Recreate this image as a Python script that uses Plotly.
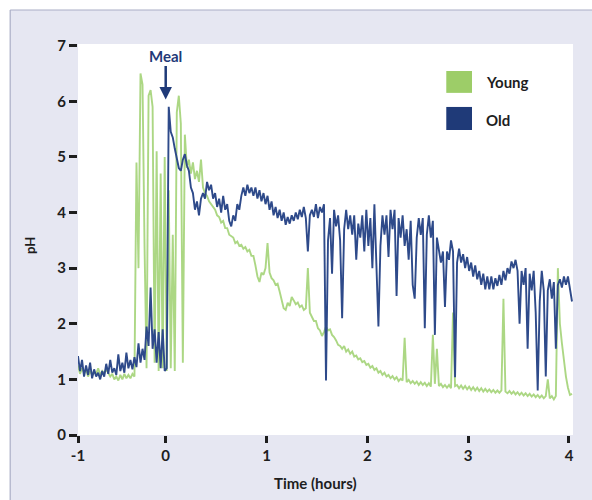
import plotly.graph_objects as go

# ---------------- data ----------------
hours = [
    -0.87, -0.85, -0.83, -0.81, -0.79, -0.77, -0.75, -0.73, -0.71, -0.69,
    -0.67, -0.65, -0.63, -0.61, -0.59, -0.57, -0.55, -0.53, -0.51, -0.49,
    -0.47, -0.45, -0.43, -0.41, -0.39, -0.37, -0.35, -0.33, -0.31, -0.29,
    -0.27, -0.25, -0.23, -0.21, -0.19, -0.17, -0.15, -0.13, -0.11, -0.09,
    -0.07, -0.05, -0.03, -0.01, 0.01, 0.03, 0.05, 0.07, 0.09, 0.11,
    0.13, 0.15, 0.17, 0.19, 0.21, 0.23, 0.25, 0.27, 0.29, 0.31,
    0.33, 0.35, 0.37, 0.39, 0.41, 0.43, 0.45, 0.47, 0.49, 0.51,
    0.53, 0.55, 0.57, 0.59, 0.61, 0.63, 0.65, 0.67, 0.69, 0.71,
    0.73, 0.75, 0.77, 0.79, 0.81, 0.83, 0.85, 0.87, 0.89, 0.91,
    0.93, 0.95, 0.97, 0.99, 1.01, 1.03, 1.05, 1.07, 1.09, 1.11,
    1.13, 1.15, 1.17, 1.19, 1.21, 1.23, 1.25, 1.27, 1.29, 1.31,
    1.33, 1.35, 1.37, 1.39, 1.41, 1.43, 1.45, 1.47, 1.49, 1.51,
    1.53, 1.55, 1.57, 1.59, 1.61, 1.63, 1.65, 1.67, 1.69, 1.71,
    1.73, 1.75, 1.77, 1.79, 1.81, 1.83, 1.85, 1.87, 1.89, 1.91,
    1.93, 1.95, 1.97, 1.99, 2.01, 2.03, 2.05, 2.07, 2.09, 2.11,
    2.13, 2.15, 2.17, 2.19, 2.21, 2.23, 2.25, 2.27, 2.29, 2.31,
    2.33, 2.35, 2.37, 2.39, 2.41, 2.43, 2.45, 2.47, 2.49, 2.51,
    2.53, 2.55, 2.57, 2.59, 2.61, 2.63, 2.65, 2.67, 2.69, 2.71,
    2.73, 2.75, 2.77, 2.79, 2.81, 2.83, 2.85, 2.87, 2.89, 2.91,
    2.93, 2.95, 2.97, 2.99, 3.01, 3.03, 3.05, 3.07, 3.09, 3.11,
    3.13, 3.15, 3.17, 3.19, 3.21, 3.23, 3.25, 3.27, 3.29, 3.31,
    3.33, 3.35, 3.37, 3.39, 3.41, 3.43, 3.45, 3.47, 3.49, 3.51,
    3.53, 3.55, 3.57, 3.59, 3.61, 3.63, 3.65, 3.67, 3.69, 3.71,
    3.73, 3.75, 3.77, 3.79, 3.81, 3.83, 3.85, 3.87, 3.89, 3.91,
    3.93, 3.95, 3.97, 3.99, 4.01, 4.03,
]

young_ph = [
    1.25, 1.10, 1.20, 1.12, 1.18, 1.05, 1.15, 1.08, 1.12, 1.10,
    1.20, 1.08, 1.15, 1.10, 1.18, 1.12, 1.05, 1.10, 1.00, 1.05,
    0.98, 1.08, 1.00, 1.10, 1.02, 1.08, 1.02, 1.10, 1.05, 4.90,
    3.00, 6.50, 6.30, 3.40, 1.20, 6.10, 6.20, 5.90, 1.30, 5.10,
    1.15, 4.70, 1.20, 5.00, 1.15, 4.40, 1.20, 3.60, 1.15, 5.80,
    6.10, 5.60, 1.30, 5.40, 4.80, 4.95, 4.70, 4.90, 4.60, 4.75,
    4.55, 4.95, 4.45, 4.35, 4.30, 4.20, 4.15, 4.10, 4.05, 3.95,
    3.92, 3.82, 3.85, 3.72, 3.72, 3.60, 3.58, 3.55, 3.45, 3.48,
    3.40, 3.42, 3.35, 3.38, 3.30, 3.33, 3.22, 3.22, 3.05, 2.85,
    2.75, 2.92, 2.88, 3.00, 3.45, 2.92, 2.82, 2.78, 2.70, 2.72,
    2.58, 2.45, 2.28, 2.25, 2.38, 2.32, 2.48, 2.42, 2.35, 2.38,
    2.30, 2.33, 2.25, 2.28, 3.00, 2.20, 2.12, 2.05, 2.05, 1.92,
    1.88, 1.78, 1.85, 1.95, 1.88, 1.90, 1.80, 1.76, 1.70, 1.62,
    1.60, 1.55, 1.60, 1.50, 1.54, 1.46, 1.50, 1.41, 1.43, 1.36,
    1.38, 1.31, 1.33, 1.26, 1.28, 1.21, 1.24, 1.17, 1.20, 1.12,
    1.15, 1.08, 1.12, 1.05, 1.08, 1.02, 1.06, 1.00, 1.04, 0.97,
    1.01, 0.98, 1.75, 0.95, 0.99, 0.93, 0.97, 0.92, 0.96, 0.90,
    0.95, 0.90, 0.94, 0.88, 0.93, 0.87, 1.80, 0.92, 1.55, 0.88,
    0.92, 0.86, 0.90, 0.85, 0.90, 0.84, 2.20, 0.88, 0.90, 0.84,
    0.89, 0.83, 0.88, 0.82, 0.87, 0.81, 0.86, 0.80, 0.85, 0.79,
    0.84, 0.78, 0.83, 0.78, 0.82, 0.77, 0.81, 0.76, 0.80, 0.76,
    0.80, 2.45, 0.78, 0.75, 0.79, 0.74, 0.78, 0.73, 0.77, 0.72,
    0.76, 0.71, 0.75, 0.70, 0.74, 0.69, 0.73, 0.68, 0.72, 0.67,
    0.71, 0.66, 0.70, 1.00, 0.66, 0.70, 0.64, 0.70, 3.00, 2.00,
    1.65, 1.30, 1.05, 0.85, 0.72, 0.74,
]

old_ph = [
    1.42, 1.15, 1.35, 1.05, 1.25, 1.08, 1.30, 1.02, 1.18, 1.05,
    1.12, 1.00, 1.15, 1.05, 1.28, 1.10, 1.35, 1.12, 1.20, 1.08,
    1.45, 1.15, 1.30, 1.12, 1.48, 1.20, 1.35, 1.18, 1.40, 1.22,
    1.65, 1.30, 1.55, 1.35, 1.95, 1.60, 2.65, 1.55, 1.90, 1.30,
    1.85, 1.20, 1.90, 1.15, 1.20, 5.90, 5.45, 5.35, 5.15, 4.95,
    4.80, 4.75, 4.95, 5.05, 4.85, 4.75, 4.45, 4.35, 4.05, 4.20,
    3.95, 4.25, 4.35, 4.25, 4.55, 4.40, 4.50, 4.25, 4.35, 4.10,
    4.25, 4.00, 4.30, 4.05, 4.15, 3.85, 3.75, 3.95, 3.85, 4.15,
    4.05, 4.30, 4.45, 4.30, 4.50, 4.35, 4.45, 4.30, 4.45, 4.25,
    4.40, 4.20, 4.35, 4.15, 4.30, 4.05, 4.20, 3.95, 4.10, 3.90,
    4.05, 3.85, 4.00, 3.78, 3.92, 3.80, 3.95, 3.85, 4.00, 3.88,
    4.05, 3.92, 4.10, 3.90, 3.30, 3.95, 4.05, 3.92, 4.15, 3.90,
    4.10, 4.00, 4.15, 0.98, 3.50, 3.90, 2.90, 4.05, 3.75, 3.95,
    3.50, 2.10, 3.70, 4.05, 3.70, 3.95, 3.60, 3.95, 3.15, 3.80,
    3.55, 3.95, 3.30, 4.05, 3.40, 3.90, 3.00, 4.15, 2.90, 1.95,
    3.40, 3.95, 3.60, 3.95, 3.20, 4.05, 3.70, 4.05, 2.50, 3.90,
    3.55, 3.95, 3.40, 3.70, 3.15, 3.85, 2.70, 2.45, 3.55, 3.90,
    3.60, 3.90, 1.92, 3.60, 3.95, 3.55, 3.85, 1.80, 3.55, 3.35,
    3.10, 3.30, 2.30, 3.30, 3.15, 3.50, 3.30, 1.04, 3.10, 3.35,
    3.10, 3.25, 3.00, 3.20, 2.95, 3.10, 2.85, 3.05, 2.80, 2.95,
    2.70, 2.90, 2.62, 2.85, 2.62, 2.85, 2.62, 2.82, 2.68, 2.88,
    2.70, 2.95, 2.78, 3.00, 2.90, 3.12, 3.00, 3.15, 2.95, 2.00,
    2.95, 2.70, 3.00, 1.55, 2.90, 2.60, 2.95, 2.20, 0.80, 2.40,
    2.95, 2.60, 1.05, 2.60, 2.80, 2.45, 2.75, 1.55, 2.70, 2.80,
    2.65, 2.85, 2.70, 2.85, 2.65, 2.40,
]

series_names = ["Young", "Old"]
x_tick_vals = [-0.87, 0, 1, 2, 3, 4]
x_tick_text = ["-1", "0", "1", "2", "3", "4"]
y_tick_vals = [0, 1, 2, 3, 4, 5, 6, 7]

# ---------------- styling ----------------
GREEN = "rgba(158,208,110,0.85)"
BLUE = "#2e4a8a"
LEG_GREEN = "#9dcd68"
LEG_BLUE = "#1f3a78"
LAVENDER = "#e6e7f2"
BORDER = "#a9aec6"
TXT = "#1e1e1e"
FONT = "Lato"

fig = go.Figure()
fig.add_trace(go.Scatter(x=hours, y=young_ph, mode="lines", name=series_names[0],
                         line=dict(color=GREEN, width=1.9), showlegend=False))
fig.add_trace(go.Scatter(x=hours, y=old_ph, mode="lines", name=series_names[1],
                         line=dict(color=BLUE, width=1.9), showlegend=False))

axis_font = dict(family=FONT, size=15, color=TXT, weight="bold")

fig.update_layout(
    width=592, height=500,
    margin=dict(l=78, r=19, t=44, b=65),
    paper_bgcolor=LAVENDER,
    plot_bgcolor="white",
    font=dict(family=FONT, color=TXT),
    xaxis=dict(range=[-0.87, 4.04], tickvals=x_tick_vals, ticktext=x_tick_text,
               ticks="outside", ticklen=7, tickwidth=3, tickcolor=TXT,
               showgrid=False, zeroline=False, showline=False,
               tickfont=axis_font, fixedrange=True),
    yaxis=dict(range=[0, 7.03], tickvals=y_tick_vals,
               ticks="outside", ticklen=8, tickwidth=2.5, tickcolor=TXT,
               showgrid=False, zeroline=False, showline=False,
               tickfont=axis_font, fixedrange=True),
)

# outer frame: white strip top/left with thin border
fig.add_shape(type="rect", xref="paper", yref="paper", x0=-0.3, x1=1.2,
              y0=1.087, y1=1.3, fillcolor="white", line=dict(width=0), layer="below")
fig.add_shape(type="rect", xref="paper", yref="paper", x0=-0.3, x1=-0.137,
              y0=-0.3, y1=1.3, fillcolor="white", line=dict(width=0), layer="below")
fig.add_shape(type="line", xref="paper", yref="paper", x0=-0.137, x1=1.2,
              y0=1.087, y1=1.087, line=dict(color=BORDER, width=1.2))
fig.add_shape(type="line", xref="paper", yref="paper", x0=-0.137, x1=-0.137,
              y0=-0.3, y1=1.087, line=dict(color=BORDER, width=1.2))

# legend (squares + labels)
fig.add_shape(type="rect", xref="paper", yref="paper", x0=0.744, x1=0.796,
              y0=0.875, y1=0.931, fillcolor=LEG_GREEN, line=dict(width=0))
fig.add_shape(type="rect", xref="paper", yref="paper", x0=0.744, x1=0.796,
              y0=0.780, y1=0.839, fillcolor=LEG_BLUE, line=dict(width=0))
fig.add_annotation(xref="paper", yref="paper", x=0.821, y=0.903, text=series_names[0],
                   showarrow=False, xanchor="left", yanchor="middle",
                   font=dict(family=FONT, size=15, color=TXT, weight="bold"))
fig.add_annotation(xref="paper", yref="paper", x=0.821, y=0.806, text=series_names[1],
                   showarrow=False, xanchor="left", yanchor="middle",
                   font=dict(family=FONT, size=15, color=TXT, weight="bold"))

# Meal arrow
fig.add_annotation(x=0, y=6.03, xref="x", yref="y", text="Meal",
                   showarrow=True, ax=0, ay=-44, arrowhead=2, arrowsize=1,
                   arrowwidth=2.5, arrowcolor=LEG_BLUE,
                   font=dict(family=FONT, size=15, color=LEG_BLUE, weight="bold"))

# axis titles
fig.add_annotation(xref="paper", yref="paper", x=0.48, y=-0.122, text="Time (hours)",
                   showarrow=False, xanchor="center", yanchor="middle",
                   font=dict(family=FONT, size=15, color=TXT, weight="bold"))
fig.add_annotation(xref="paper", yref="paper", x=-0.097, y=0.486, text="pH",
                   showarrow=False, textangle=-90, xanchor="center", yanchor="middle",
                   font=dict(family=FONT, size=13, color=TXT, weight="bold"))

fig.write_html("out.html", config={"displayModeBar": False},
               post_script="document.body.style.margin='0';")
